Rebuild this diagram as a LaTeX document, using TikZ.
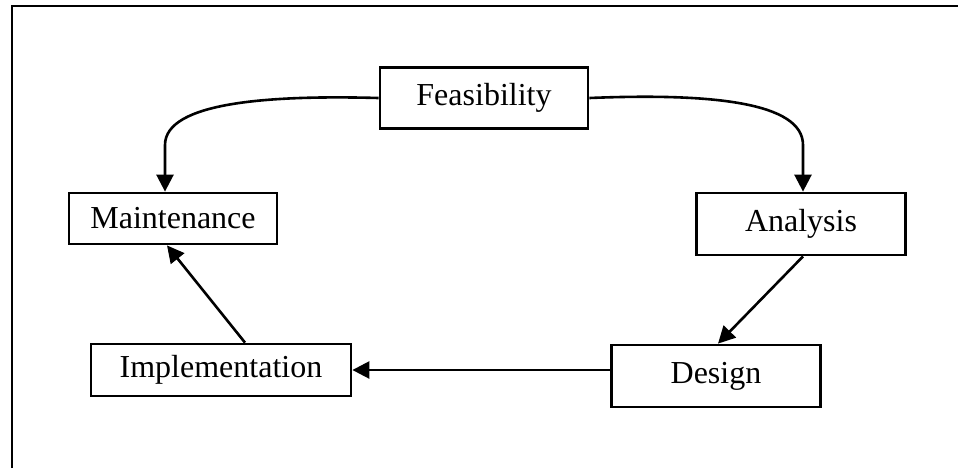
\documentclass[tikz,border=0pt]{standalone}
\usepackage{fontspec}
\setmainfont{Liberation Serif}
\usetikzlibrary{arrows.meta,calc}

\begin{document}
\begin{tikzpicture}[x=0.5pt,y=-0.5pt,
        phase/.style={draw, line width=1.4pt, inner sep=0pt, font=\fontsize{16}{19}\selectfont},
        flow/.style={line width=1.3pt, -{Triangle[length=8.5pt,width=8.5pt]}}]
            \useasboundingbox (0,0) rectangle (958,468);
            \draw[line width=1.4pt] (12,468) -- (12,6) -- (958,6);

            \node[phase, minimum width=104pt, minimum height=30.5pt] (feas) at (484,98) {Feasibility};
            \node[phase, minimum width=104pt, minimum height=25.5pt] (maint) at (173,218.5) {Maintenance};
            \node[phase, minimum width=104.5pt, minimum height=31pt] (anal) at (801,224) {Analysis};
            \node[phase, minimum width=130pt, minimum height=26pt] (impl) at (221,370) {Implementation};
            \node[phase, minimum width=104.5pt, minimum height=31pt] (des) at (716,376) {Design};

            \coordinate (mbend) at (165,145);
            \coordinate (abend) at (803,145);

            \draw[flow] (feas.west) .. controls (270,95) and (165,102) .. (mbend) -- (mbend |- maint.north);
            \draw[flow] (feas.east) .. controls (710,93) and (803,102) .. (abend) -- (abend |- anal.north);
            \draw[flow] ($(anal.south)+(2,0)$) -- ($(des.north)+(2,0)$);
            \draw[flow] (impl.east -| des.west) -- (impl.east);
            \draw[flow] ($(impl.north)+(24,0)$) -- ($(maint.south)+(-6,0)$);
        \end{tikzpicture}
\end{document}
